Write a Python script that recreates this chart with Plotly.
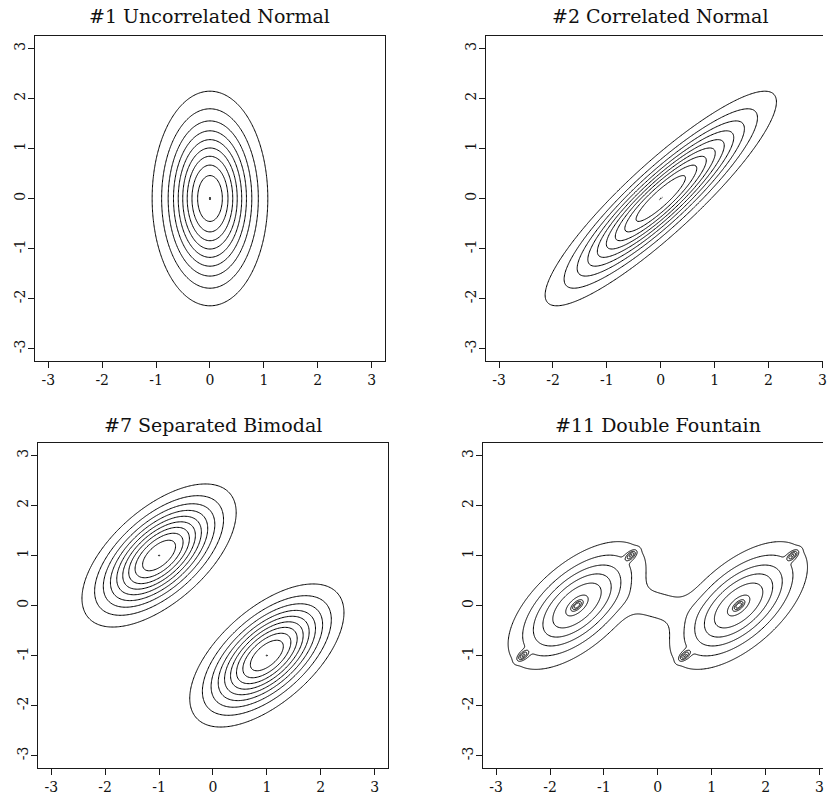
import numpy as np
import plotly.graph_objects as go

# ---------------- data ----------------
panel_titles = ["#1 Uncorrelated Normal", "#2 Correlated Normal",
                "#7 Separated Bimodal", "#11 Double Fountain"]
tick_vals = [-3, -2, -1, 0, 1, 2, 3]
tick_text = ["-3", "-2", "-1", "0", "1", "2", "3"]

# normal-mixture components: weight, mean x, mean y, sd x, sd y, correlation
p1_w, p1_mx, p1_my = [1.0], [0.0], [0.0]
p1_sx, p1_sy, p1_rho = [0.5], [1.0], [0.0]

p2_w, p2_mx, p2_my = [1.0], [0.0], [0.0]
p2_sx, p2_sy, p2_rho = [1.0], [1.0], [0.9]

p3_w, p3_mx, p3_my = [0.5, 0.5], [-1.0, 1.0], [1.0, -1.0]
p3_sx, p3_sy, p3_rho = [2/3, 2/3], [2/3, 2/3], [0.6, 0.6]

p4_w = [12/25, 12/25, 8/350, 1/350, 1/350, 1/350, 1/350, 1/350, 1/350]
p4_mx = [-1.5, 1.5, 0.0, -1.5, 1.5, -2.5, -0.5, 0.5, 2.5]
p4_my = [0.0, 0.0, 0.0, 0.0, 0.0, -1.0, 1.0, -1.0, 1.0]
p4_sx = [2/3, 2/3, 0.35, 1/15, 1/15, 1/15, 1/15, 1/15, 1/15]
p4_sy = [2/3, 2/3, 0.25, 1/15, 1/15, 1/15, 1/15, 1/15, 1/15]
p4_rho = [0.6, 0.6, 0.0, 0.6, 0.6, 0.6, 0.6, 0.6, 0.6]

# contour levels as fractions of each panel's maximum density
level_fracs = [0.1, 0.2, 0.3, 0.4, 0.5, 0.6, 0.7, 0.8, 0.9]
peak_frac = 0.9995


def mixture(xg, yg, w, mx, my, sx, sy, rho):
    X, Y = np.meshgrid(xg, yg)
    Z = np.zeros_like(X)
    for wi, ax, ay, bx, by, r in zip(w, mx, my, sx, sy, rho):
        dx = (X - ax) / bx
        dy = (Y - ay) / by
        q = (dx * dx - 2 * r * dx * dy + dy * dy) / (1 - r * r)
        Z += wi / (2 * np.pi * bx * by * np.sqrt(1 - r * r)) * np.exp(-q / 2)
    return Z


grid = np.linspace(-3.3, 3.3, 265)


def fine_grid(centres):
    coarse = np.arange(-3.3, 3.3001, 0.025)
    keep = [v for v in coarse if all(abs(v - c) > 0.3 for c in centres)]
    pts = list(keep)
    for c in centres:
        pts += list(np.arange(c - 0.3, c + 0.3001, 0.01))
    return np.unique(np.round(np.array(pts), 4))


x4 = fine_grid(sorted(set(p4_mx[3:])))
y4 = fine_grid(sorted(set(p4_my[3:])))

panels = [
    (grid, grid, mixture(grid, grid, p1_w, p1_mx, p1_my, p1_sx, p1_sy, p1_rho), True),
    (grid, grid, mixture(grid, grid, p2_w, p2_mx, p2_my, p2_sx, p2_sy, p2_rho), True),
    (grid, grid, mixture(grid, grid, p3_w, p3_mx, p3_my, p3_sx, p3_sy, p3_rho), True),
    (x4, y4, mixture(x4, y4, p4_w, p4_mx, p4_my, p4_sx, p4_sy, p4_rho), False),
]

W, H = 827, 798
# pixel boxes (left, right, top, bottom) of each panel
boxes = [(35, 387, 36, 361), (488, 840, 36, 361), (38, 390, 443, 768), (485, 837, 443, 768)]
title_y = [16, 16, 425, 425]

fig = go.Figure()
line_col = "#1a1a1a"
serif = "DejaVu Serif"

for i, ((xg, yg, Z, dot), (l, r, t, b)) in enumerate(zip(panels, boxes)):
    ax = "" if i == 0 else str(i + 1)
    M = float(Z.max())
    fig.add_trace(go.Contour(
        x=xg, y=yg, z=Z, autocontour=False,
        contours=dict(start=level_fracs[0] * M, end=level_fracs[-1] * M,
                      size=(level_fracs[1] - level_fracs[0]) * M,
                      coloring="none", showlabels=False),
        line=dict(color="black", width=1, smoothing=1),
        showscale=False, hoverinfo="skip",
        xaxis="x" + ax, yaxis="y" + ax))
    if dot:
        fig.add_trace(go.Contour(
            x=xg, y=yg, z=Z, autocontour=False,
            contours=dict(start=peak_frac * M, end=peak_frac * M + 1e-9, size=1.0,
                          coloring="none", showlabels=False),
            line=dict(color="black", width=1),
            showscale=False, hoverinfo="skip",
            xaxis="x" + ax, yaxis="y" + ax))

    px_per = (r - l) / 6.5
    x0 = -3.25
    x1 = -3.25 + (min(r, W) - l) / px_per
    xa = dict(domain=[l / W, min(r, W) / W], range=[x0, x1],
              showline=True, linecolor=line_col, linewidth=1, mirror=True,
              ticks="outside", ticklen=6, tickcolor=line_col, tickwidth=1,
              tickvals=tick_vals, ticktext=tick_text, ticklabeloverflow="allow",
              tickfont=dict(family=serif, size=14, color="#111"),
              showgrid=False, zeroline=False, anchor="y" + ax, fixedrange=True)
    ya = dict(domain=[1 - b / H, 1 - t / H], range=[-3.25, 3.25],
              showline=True, linecolor=line_col, linewidth=1, mirror=(r <= W),
              ticks="outside", ticklen=6, tickcolor=line_col, tickwidth=1,
              tickvals=tick_vals, ticktext=tick_text, tickangle=-90,
              ticklabelstandoff=-3, ticklabeloverflow="allow",
              tickfont=dict(family=serif, size=14, color="#111"),
              showgrid=False, zeroline=False, anchor="x" + ax, fixedrange=True)
    fig.layout["xaxis" + ax] = xa
    fig.layout["yaxis" + ax] = ya
    fig.add_annotation(x=0, y=1 - title_y[i] / H, xref="x" + ax, yref="paper",
                       text=panel_titles[i], showarrow=False,
                       xanchor="center", yanchor="middle",
                       font=dict(family=serif, size=19, color="#111"))

fig.update_layout(width=W, height=H, margin=dict(l=0, r=0, t=0, b=0),
                  paper_bgcolor="white", plot_bgcolor="white", showlegend=False)

fig.write_html("out.html")
